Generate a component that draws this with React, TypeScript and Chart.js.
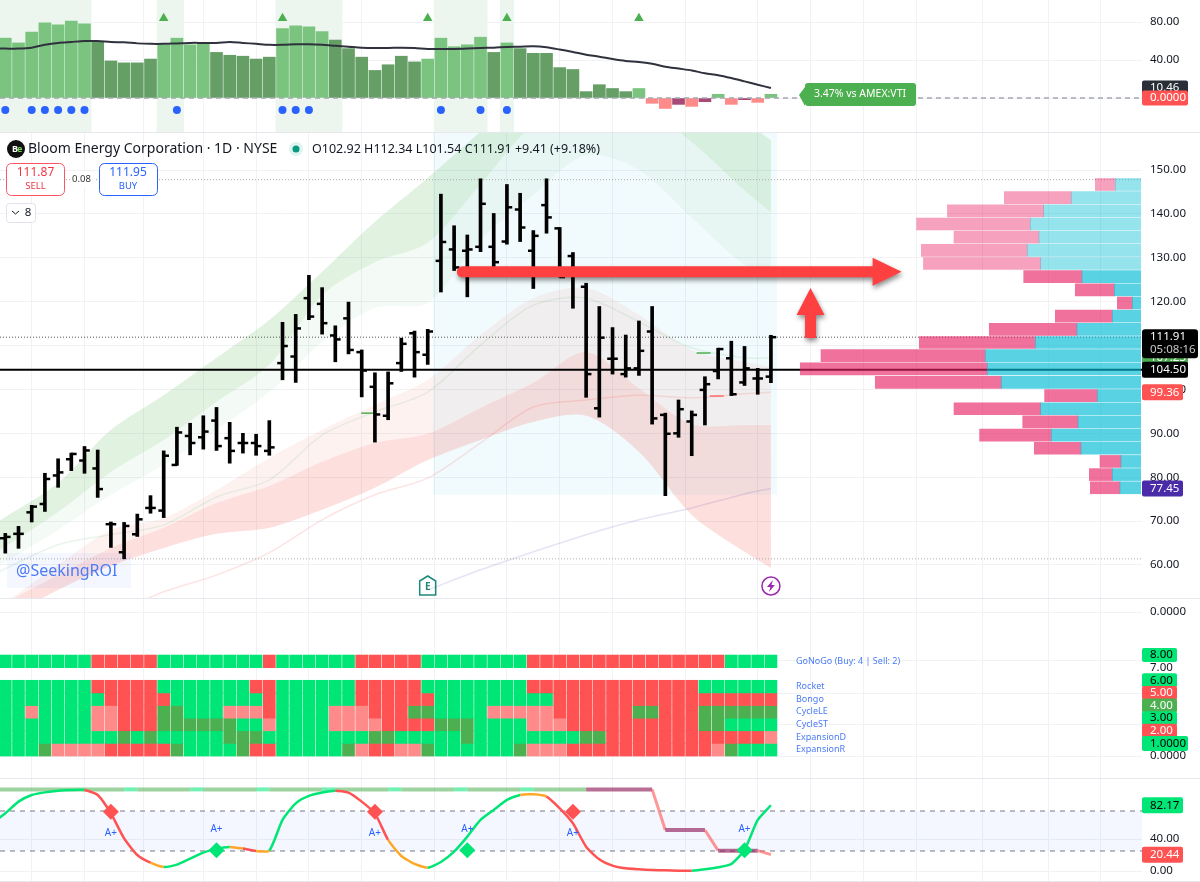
import { useEffect, useRef } from "react";
import { Chart, registerables } from "chart.js";

Chart.register(...registerables);

const FONT = '"Noto Sans", sans-serif';
const GRID = "#f0f2f5";
const X_MIN = -0.4015;
const X_MAX = 86.11;

// vertical grid positions, in bar numbers
const gridIdx = [0, 4, 8, 13, 17, 21, 25, 29, 36, 40, 44, 48, 55, 59, 63, 67, 71, 77, 81, 85];
const barIdx = Array.from({ length: 59 }, (_, i) => i);

// top panel: relative strength
const relValues = [
  63, 58, 69.5, 79, 77, 81, 78, 59, 39, 37, 37, 41, 56, 63, 56, 58, 48, 45, 44, 41, 43, 73, 76, 75, 70, 61, 52, 43, 29, 35,
  44, 38, 41, 63, 54, 56, 64, 48, 58, 52, 47, 47, 32, 30, 6.7, 14, 10, 6.7, 10, -5.6, -11, -6.7, -8.8, -3.9, 3.9, -6.7, -1.8,
  -4.6, 3.9,
];
const relKinds = "LLLLLLLDDDDDLLLLDDDDDLLLLDDDDDDDLLLLLDLDDDDDDDDDLrrprpLrprL";
const relAverage = [
  52, 52, 52, 53, 56, 58, 59, 60, 60, 59, 58.6, 57.5, 57, 57, 57.5, 58, 58, 58, 59, 58, 57, 56, 56, 56.5, 56.5, 56, 55, 54, 53,
  52.6, 52.6, 53, 52.6, 51.6, 51.6, 51.6, 52, 52.6, 53, 53.7, 54, 54.4, 53.3, 51, 48.4, 45.6, 43.5, 41, 39, 38, 36, 33, 31, 29,
  26, 24, 21, 17.5, 14, 10.46,
];
const greenZoneIdx = [0, 1, 2, 3, 4, 5, 6, 12, 13, 21, 22, 23, 24, 25, 33, 34, 35, 36, 38];
const triangleIdx = [12, 21, 32, 38, 48];
const dotIdx = [0, 2, 3, 4, 5, 6, 13, 21, 22, 23, 33, 36, 38];

// price bars
const opens = [
  66.1, 67.1, 72, 73.9, 80.4, 84.1, 83.8, 82, 69.3, 62.9, 67, 73, 72.4, 82.8, 89.4, 89.1, 92.9, 88.9, 87.8, 87.8, 86, 106, 107.5,
  120.8, 119.5, 112.3, 116.2, 108.5, 100.6, 94, 106, 112.8, 107.9, 129.3, 131.9, 131.6, 132.5, 132.5, 133.7, 141, 131.6, 142,
  136.7, 130.4, 123.4, 95.7, 107, 103.5, 104.8, 113.2, 94.2, 90, 92.7, 99.9, 104.2, 107.1, 101.6, 102.5, 102.92,
];
const highs = [
  67.2, 68.8, 73.6, 80.9, 84.2, 85.5, 87, 86.2, 69.8, 69.7, 71.6, 75.8, 86, 91.4, 92.3, 94, 95.9, 92.5, 90, 89.8, 92.9, 115.3,
  117.1, 126, 123.2, 114.5, 119.9, 109, 103.8, 104, 111.7, 113.3, 113.7, 144.5, 137.3, 135.2, 148, 140.1, 146.7, 144.7, 136.2,
  148, 136.9, 131.2, 124.2, 118.9, 114.1, 112.4, 115.6, 118.9, 94.6, 97.6, 95.1, 102.9, 109.4, 111, 109.8, 104.8, 112.34,
];
const lows = [
  62.7, 63.8, 69.8, 72.2, 77.7, 81.5, 80.9, 75.4, 64, 61.4, 66.5, 71.8, 70.8, 82.7, 85.1, 86.4, 86.1, 83.2, 85.5, 85, 85, 102.2,
  101.6, 115.9, 112.6, 106.3, 108.1, 98.3, 88, 93.1, 104.1, 102.8, 105.7, 122.2, 127.1, 121.1, 131.4, 127.6, 133.1, 133.7, 123,
  135.6, 125.6, 118.5, 98.2, 93.7, 103.5, 102.8, 103.2, 92.1, 75.8, 89.1, 84.9, 91.9, 102.4, 98.6, 100.9, 98.9, 101.54,
];
const closes = [
  66.4, 67.1, 73.3, 79.6, 81.1, 85.3, 86.1, 77.3, 69.3, 68.9, 70.4, 73, 84.9, 90.2, 87.8, 90.4, 87.1, 86, 87.8, 87.1, 86.8, 109.9,
  113.9, 116.6, 115.1, 111.4, 109, 104.3, 94.3, 101.4, 110.4, 108.5, 113.2, 133.6, 127.8, 131.9, 142.3, 129, 141.5, 136.9, 135,
  139.2, 125.6, 126.8, 103.5, 111.8, 107, 104.8, 108.8, 93.4, 89.9, 95.5, 94.2, 101.2, 109.2, 98.9, 104.8, 102.5, 111.91,
];

// moving average ribbons
const ribbonIdx = [-1, 4, 8, 12, 16, 20, 24, 28, 32, 36, 40, 44, 48, 52, 56, 58];
const greenTop = [69.1, 78.7, 90.8, 98.7, 107.2, 115.8, 126.8, 138.2, 148.2, 158.7, 168.2, 175.1, 172.8, 167.1, 160.9, 156.8];
const greenMid = [62.3, 72.1, 81.2, 88.5, 97.2, 105.6, 121.5, 129, 133.4, 146.8, 160.3, 164.8, 164.8, 156.4, 145.4, 140.4];
const greenLow = [58.9, 68, 76, 82.8, 90.8, 99.4, 110.8, 118.6, 119.7, 134.1, 144.3, 153.4, 150, 139.1, 128.4, 126.8];
const redTop = [49.3, 60, 68, 70.7, 77.1, 84.4, 90.8, 96.5, 102.2, 112.4, 120.8, 123.1, 117, 109, 106.3, 105.1];
const redMid = [49.8, 57.7, 63.9, 68.5, 74.1, 78, 83.5, 87.8, 89.9, 95.8, 101.5, 108.5, 100.3, 92.1, 91.9, 91.9];
const redLow = [46.4, 54.3, 59.8, 63.9, 67.1, 68.5, 72.6, 77.6, 83.9, 88.5, 92.6, 94, 85.8, 71.4, 63, 59.3];
const paleGreenLine = [57.7, 64.6, 66.9, 69.1, 75.5, 79.4, 89.6, 94.9, 99.4, 110.1, 119.2, 120.8, 115.4, 109.5, 107.2, 107.23];
const paleRedIdx = [8, 12, 16, 20, 24, 28, 32, 36, 40, 44, 48, 52, 56, 58];
const paleRedLine = [48.6, 53.9, 57.7, 62.8, 70.3, 76, 79.8, 87.8, 96, 97.6, 98.7, 98.1, 99, 99.36];
const purpleIdx = [32, 36, 40, 44, 48, 52, 56, 58];
const purpleLine = [54.3, 58.9, 63, 66.9, 70.3, 73, 76.2, 77.45];
const greenTickIdx = [27.5, 52.9];
const greenTickVal = [94.6, 108.3];
const redTickIdx = [53.9];
const redTickVal = [98.5];

// volume profile, top row first
const profilePrices = [
  146.7, 143.7, 140.7, 137.7, 134.7, 131.7, 128.7, 125.7, 122.7, 119.7, 116.7, 113.7, 110.7, 107.7, 104.7, 101.6, 98.6, 95.6, 92.6,
  89.6, 86.6, 83.6, 80.6, 77.6,
];
const profileBuy = [
  25.7, 69.7, 97.3, 110.7, 102, 113.7, 100.3, 59, 26.7, 8.7, 28.7, 64, 105.7, 155.7, 153.7, 139.7, 43.7, 100.3, 63, 89.7, 60, 20,
  28.7, 21,
];
const profileSell = [
  20, 67, 96.3, 113.7, 85, 106, 117.3, 58.3, 39, 15, 57, 87.7, 116, 164.3, 187, 126, 52.7, 86.7, 55.3, 71.7, 46.7, 21, 23, 29.7,
];

// signal grid, one letter per bar
const gridRows = [
  { name: "GoNoGo (Buy: 4 | Sell: 2)", hi: 8, cells: "GGGGGGGRRRRRGGGGGGGGRGGGGGGRRRRRGGGGGGGGRRRRRRRRRRRRRRRGGGG" },
  { name: "Rocket", hi: 6, cells: "GGGGGGGRRRRRGGGGGGGRRGGGGGGRRRRRGGGGGGGGRRRRRRRRRRRRRGGGGGG" },
  { name: "Bongo", hi: 5, cells: "GGGGGGGGRRRRRGGGGGGGRGGGGGGRRRRRRGGGGGGGGGRRRRRRRRRRRRRRRRR" },
  { name: "CycleLE", hi: 4, cells: "GGLGGGGLLRRRDDGGGLLLRGGGGLLLRRRDDGGGGLLLLLRRRRRRDDRRRDDDDDD" },
  { name: "CycleST", hi: 3, cells: "GGGGGGGLLRRRDDDDDDGGLGGGGLLLLRRRRDDDGGGGLLLRRRRRRRRRRDDGGGG" },
  { name: "ExpansionD", hi: 2, cells: "GGGGGGGGGDGDGGGGGDDDGGGGGGGGDDGGGGGDGGGGGGGGDDRRRRRRRRRRRRL" },
  { name: "ExpansionR", hi: 1, cells: "GGGDLLLLRRRRRDGGGGDRRGGGGGDLRRLLDGGGGGGDLLLRRRRRRRRRRRLDGGG" },
];
const cellColors: Record<string, string> = { G: "#00e676", R: "#ff5252", D: "#4caf50", L: "#ff8a8a" };

// oscillator, first value sits left of the first bar
const oscValues = [
  60, 72, 86.7, 95, 98.3, 100.4, 101.2, 101.2, 95, 72, 40.8, 20, 10.4, 5, 7.9, 15.4, 22.9, 28, 30, 28, 25, 25.4, 63.8, 84.6, 93.8, 98,
  100.4, 98, 86.7, 72, 38.8, 18.8, 8.8, 4.2, 11.3, 24.2, 43, 63.8, 76.3, 88.8, 95, 95.8, 93, 78.3, 59.6, 30.4, 14.6, 6.7, 3.3, 2.1,
  1.3, 0.8, 0.4, 0.4, 2.1, 4.6, 8.8, 26.3, 63.8, 82.17,
];
const oscKinds = "GGGGGGGRRRRROGGGGGOROGGGGGRRRROOOGGGGGGGOORRRRRRRRRRRGGGGGG";
const trendValues = [
  102, 102, 102, 102, 102, 102, 102, 102, 102, 102, 102, 102, 102, 102, 102, 102, 102, 102, 102, 102, 102, 102, 102, 102, 102, 102,
  102, 102, 102, 102, 102, 102, 102, 102, 102, 102, 102, 102, 102, 102, 102, 102, 102, 102, 102, 102, 102, 102, 102, 102, 102, 51.25,
  51.25, 51.25, 51.25, 25.4, 25.4, 25.4, 25.4, 20.44,
];
const trendKinds = "gggggggggmggggmggggmggggmggggmggggmggggmggggppppprppprppprr";
const diamondUpIdx = [16, 35, 56];
const diamondDownIdx = [8, 28, 43];
const aPlusIdx = [8, 16, 28, 35, 43, 56];
const aPlusVal = [47.5, 52.5, 47.5, 52.5, 47.5, 52.5];

const pts = (idx: number[], vals: number[]) => vals.map((y, i) => ({ x: idx[i], y }));
const level = (y: number) => [
  { x: X_MIN, y },
  { x: X_MAX, y },
];

const label = (ctx: any, s: string, x: number, y: number, font: string, color: string, align = "left") => {
  ctx.font = font;
  ctx.fillStyle = color;
  ctx.textAlign = align;
  ctx.textBaseline = "middle";
  ctx.fillText(s, x, y);
};
const box = (ctx: any, x: number, y: number, w: number, h: number, r: number, fill?: string, stroke?: string) => {
  ctx.beginPath();
  ctx.roundRect(x, y, w, h, r);
  if (fill) {
    ctx.fillStyle = fill;
    ctx.fill();
  }
  if (stroke) {
    ctx.strokeStyle = stroke;
    ctx.lineWidth = 1;
    ctx.stroke();
  }
};
// price tag in the right axis
const tag = (chart: any, value: number, text: string, w: number, bg: string, fg: string, h = 15) => {
  const y = chart.scales.y.getPixelForValue(value);
  box(chart.ctx, 1142, y - h / 2, w, h, 2, bg);
  label(chart.ctx, text, 1150, y, `11.5px ${FONT}`, fg);
};

const noPadding = (s: any) => {
  s.paddingLeft = 0;
  s.paddingRight = 0;
  s.paddingTop = 0;
  s.paddingBottom = 0;
};

const baseOptions = (yMin: number, yMax: number, yTicks: number[], fmt: (v: number) => string): any => ({
  responsive: false,
  animation: false,
  events: [],
  layout: { padding: 0, autoPadding: false },
  plugins: { legend: { display: false }, tooltip: { enabled: false } },
  scales: {
    x: {
      type: "linear",
      min: X_MIN,
      max: X_MAX,
      offset: false,
      afterBuildTicks: (s: any) => {
        s.ticks = gridIdx.map((value) => ({ value }));
      },
      afterFit: (s: any) => {
        s.height = 0;
        noPadding(s);
      },
      ticks: { display: false, autoSkip: false },
      grid: { color: GRID, drawTicks: false },
      border: { display: false },
    },
    y: {
      position: "right",
      min: yMin,
      max: yMax,
      afterBuildTicks: (s: any) => {
        s.ticks = yTicks.map((value) => ({ value }));
      },
      afterFit: (s: any) => {
        s.width = 58;
        noPadding(s);
      },
      ticks: { color: "#131722", font: { family: FONT, size: 11.5 }, padding: 8, crossAlign: "near", autoSkip: false, callback: fmt },
      grid: { color: GRID, drawTicks: false },
      border: { display: false },
    },
  },
});

const two = (v: number) => v.toFixed(2);
const hiddenLine = { type: "line", pointRadius: 0, borderWidth: 0, tension: 0.3 };

function relConfig(): any {
  const yMin = -35.79;
  const yMax = 103.16;
  const kindColor: Record<string, string> = { L: "#7bc47f", D: "#659f66", r: "#ff8a8a", p: "#a84a78" };
  return {
    type: "bar",
    data: {
      datasets: [
        {
          type: "line",
          data: level(0),
          borderColor: "#a3a6af",
          borderWidth: 1.5,
          borderDash: [5, 4],
          pointRadius: 0,
        },
        {
          type: "line",
          data: relAverage.map((y, i) => ({ x: i - 1, y })),
          borderColor: "#2f323d",
          borderWidth: 2,
          pointRadius: 0,
          tension: 0.3,
        },
        {
          type: "scatter",
          data: triangleIdx.map((x) => ({ x, y: 84 })),
          pointStyle: "triangle",
          pointRadius: 5.5,
          pointBackgroundColor: "#4caf50",
          pointBorderWidth: 0,
        },
        {
          type: "scatter",
          data: dotIdx.map((x) => ({ x, y: -12.6 })),
          pointRadius: 4,
          pointBackgroundColor: "#2962ff",
          pointBorderWidth: 0,
        },
        {
          data: barIdx.map((x) => ({ x, y: relValues[x] })),
          backgroundColor: barIdx.map((i) => kindColor[relKinds[i]]),
          barThickness: 12,
          grouped: false,
        },
        {
          data: greenZoneIdx.map((x) => ({ x, y: [yMin, yMax] })),
          backgroundColor: "#ecf6ee",
          barThickness: 13.5,
          grouped: false,
        },
      ],
    },
    options: baseOptions(yMin, yMax, [80, 40, 0], two),
    plugins: [
      {
        id: "relTags",
        afterDraw(chart: any) {
          const ctx = chart.ctx;
          const y = chart.scales.y.getPixelForValue(0);
          ctx.save();
          ctx.beginPath();
          ctx.moveTo(799, y - 3);
          ctx.lineTo(805, y - 11);
          ctx.lineTo(805, y + 8);
          ctx.closePath();
          ctx.fillStyle = "#4caf50";
          ctx.fill();
          box(ctx, 805, y - 15, 111, 23, 3, "#4caf50");
          label(ctx, "3.47% vs AMEX:VTI", 860, y - 4, `10.5px ${FONT}`, "#fff", "center");
          tag(chart, 10.46, "10.46", 46, "#2a2e39", "#fff");
          tag(chart, 0, "0.0000", 46, "#ff5252", "#fff");
          ctx.restore();
        },
      },
    ],
  };
}

const PRICE_MIN = 52.48;
const PRICE_MAX = 158.66;

function priceConfig(): any {
  const tickLine = (dx: number, vals: number[]) => ({
    type: "scatter",
    data: barIdx.map((i) => ({ x: i + dx, y: vals[i] })),
    pointStyle: "line",
    pointRadius: 2.8,
    pointBorderColor: "#000",
    pointBorderWidth: 2.5,
  });
  const levelLine = (y: number, color: string, width: number, dash: number[]) => ({
    type: "line",
    data: level(y),
    borderColor: color,
    borderWidth: width,
    borderDash: dash,
    pointRadius: 0,
  });
  const thin = (idx: number[], vals: number[], color: string) => ({
    type: "line",
    data: pts(idx, vals),
    borderColor: color,
    borderWidth: 1.5,
    pointRadius: 0,
    tension: 0.3,
  });
  const mark = (idx: number[], vals: number[], color: string) => ({
    type: "scatter",
    data: pts(idx, vals),
    pointStyle: "line",
    pointRadius: 7,
    pointBorderColor: color,
    pointBorderWidth: 1.5,
  });
  return {
    type: "bar",
    data: {
      datasets: [
        tickLine(-0.19, opens),
        tickLine(0.19, closes),
        {
          data: barIdx.map((x) => ({ x, y: [lows[x], highs[x]] })),
          backgroundColor: "#000",
          barThickness: 3,
          grouped: false,
        },
        mark(greenTickIdx, greenTickVal, "#4caf50"),
        mark(redTickIdx, redTickVal, "#ff6b6b"),
        levelLine(104.5, "#000", 2, []),
        levelLine(111.91, "#555", 1, [1, 2]),
        levelLine(147.8, "#aaa", 1, [1, 2]),
        levelLine(61.4, "#aaa", 1, [1, 2]),
        thin(ribbonIdx, paleGreenLine, "rgba(76,175,80,0.12)"),
        thin(paleRedIdx, paleRedLine, "rgba(244,67,54,0.14)"),
        thin(purpleIdx, purpleLine, "rgba(103,58,183,0.15)"),
        { ...hiddenLine, data: pts(ribbonIdx, greenTop), fill: "+1", backgroundColor: "rgba(76,175,80,0.17)" },
        { ...hiddenLine, data: pts(ribbonIdx, greenMid), fill: "+1", backgroundColor: "rgba(76,175,80,0.06)" },
        { ...hiddenLine, data: pts(ribbonIdx, greenLow), fill: false },
        { ...hiddenLine, data: pts(ribbonIdx, redTop), fill: "+1", backgroundColor: "rgba(244,67,54,0.07)" },
        { ...hiddenLine, data: pts(ribbonIdx, redMid), fill: "+1", backgroundColor: "rgba(244,67,54,0.17)" },
        { ...hiddenLine, data: pts(ribbonIdx, redLow), fill: false },
      ],
    },
    options: baseOptions(PRICE_MIN, PRICE_MAX, [150, 140, 130, 120, 110, 100, 90, 80, 70, 60], two),
    plugins: [
      {
        id: "zone",
        beforeDatasetsDraw(chart: any) {
          const { x, y } = chart.scales;
          const left = x.getPixelForValue(32.4);
          const top = y.getPixelForValue(PRICE_MAX);
          chart.ctx.fillStyle = "rgba(0,188,212,0.055)";
          chart.ctx.fillRect(left, top, x.getPixelForValue(58.46) - left, y.getPixelForValue(76) - top);
        },
      },
      {
        id: "priceDecor",
        afterDraw(chart: any) {
          const ctx = chart.ctx;
          const { x, y } = chart.scales;
          const off = 132;
          ctx.save();

          // annotation arrows
          ctx.shadowColor = "rgba(0,0,0,0.45)";
          ctx.shadowBlur = 5;
          ctx.shadowOffsetX = 1;
          ctx.shadowOffsetY = 3;
          ctx.fillStyle = "#ff4040";
          const ay = y.getPixelForValue(126.8);
          const ax0 = x.getPixelForValue(34.2);
          const ax1 = x.getPixelForValue(67.9);
          ctx.beginPath();
          ctx.roundRect(ax0, ay - 5.5, ax1 - ax0 - 28, 11, [5.5, 0, 0, 5.5]);
          ctx.moveTo(ax1 - 29, ay - 14);
          ctx.lineTo(ax1, ay);
          ctx.lineTo(ax1 - 29, ay + 14);
          ctx.closePath();
          ctx.fill();
          const ux = x.getPixelForValue(61);
          const uTip = y.getPixelForValue(123.1);
          const uEnd = y.getPixelForValue(111.7);
          ctx.beginPath();
          ctx.moveTo(ux, uTip);
          ctx.lineTo(ux + 14, uTip + 27);
          ctx.lineTo(ux + 5.5, uTip + 27);
          ctx.lineTo(ux + 5.5, uEnd);
          ctx.lineTo(ux - 5.5, uEnd);
          ctx.lineTo(ux - 5.5, uTip + 27);
          ctx.lineTo(ux - 14, uTip + 27);
          ctx.closePath();
          ctx.fill();
          ctx.shadowColor = "transparent";
          ctx.shadowBlur = 0;
          ctx.shadowOffsetX = 0;
          ctx.shadowOffsetY = 0;

          // header
          ctx.beginPath();
          ctx.arc(16, 149 - off, 9, 0, Math.PI * 2);
          ctx.fillStyle = "#111";
          ctx.fill();
          label(ctx, "B", 12, 149 - off, `bold 9px ${FONT}`, "#fff");
          label(ctx, "e", 17, 149 - off, `bold 9px ${FONT}`, "#7ed957");
          label(ctx, "Bloom Energy Corporation · 1D · NYSE", 28, 149 - off, `14px ${FONT}`, "#131722");
          ctx.beginPath();
          ctx.arc(296, 149 - off, 7, 0, Math.PI * 2);
          ctx.fillStyle = "#dff3ef";
          ctx.fill();
          ctx.beginPath();
          ctx.arc(296, 149 - off, 3.5, 0, Math.PI * 2);
          ctx.fillStyle = "#089981";
          ctx.fill();
          label(ctx, "O102.92 H112.34 L101.54 C111.91 +9.41 (+9.18%)", 312, 149 - off, `12.5px ${FONT}`, "#131722");

          // order buttons
          box(ctx, 6.5, 163.5 - off, 58, 32, 5, "#fff", "#ff5263");
          label(ctx, "111.87", 35.5, 173 - off, `12px ${FONT}`, "#f23645", "center");
          label(ctx, "SELL", 35.5, 186.5 - off, `9.5px ${FONT}`, "#f23645", "center");
          box(ctx, 70, 172 - off, 24, 15, 0, "#fff");
          label(ctx, "0.08", 81.5, 179.5 - off, `9.5px ${FONT}`, "#333", "center");
          box(ctx, 99.5, 163.5 - off, 58, 32, 5, "#fff", "#2962ff");
          label(ctx, "111.95", 128, 173 - off, `12px ${FONT}`, "#2962ff", "center");
          label(ctx, "BUY", 128, 186.5 - off, `9.5px ${FONT}`, "#2962ff", "center");
          box(ctx, 6.5, 203.5 - off, 29, 19, 3, "#fff", "#e0e3eb");
          ctx.strokeStyle = "#131722";
          ctx.lineWidth = 1;
          ctx.beginPath();
          ctx.moveTo(12, 211 - off);
          ctx.lineTo(15.5, 214 - off);
          ctx.lineTo(19, 211 - off);
          ctx.stroke();
          label(ctx, "8", 28, 213 - off, `11.5px ${FONT}`, "#131722", "center");

          // watermark
          box(ctx, 7, 553 - off, 124, 35, 0, "rgba(41,98,255,0.05)");
          label(ctx, "@SeekingROI", 16, 571 - off, `16px ${FONT}`, "#4b7bf5");

          // event markers
          const ex = x.getPixelForValue(32);
          const ey = 586 - off;
          ctx.strokeStyle = "#1c8a7a";
          ctx.lineWidth = 1.5;
          ctx.beginPath();
          ctx.moveTo(ex, ey - 10);
          ctx.lineTo(ex + 8, ey - 5);
          ctx.lineTo(ex + 8, ey + 9);
          ctx.lineTo(ex - 8, ey + 9);
          ctx.lineTo(ex - 8, ey - 5);
          ctx.closePath();
          ctx.stroke();
          label(ctx, "E", ex, ey + 1, `bold 10px ${FONT}`, "#1c8a7a", "center");
          const lx = x.getPixelForValue(58);
          ctx.strokeStyle = "#9c27b0";
          ctx.beginPath();
          ctx.arc(lx, ey, 9, 0, Math.PI * 2);
          ctx.stroke();
          ctx.fillStyle = "#9c27b0";
          ctx.beginPath();
          ctx.moveTo(lx + 2, ey - 6);
          ctx.lineTo(lx - 4, ey + 1);
          ctx.lineTo(lx - 0.5, ey + 1);
          ctx.lineTo(lx - 2, ey + 6);
          ctx.lineTo(lx + 4, ey - 1);
          ctx.lineTo(lx + 0.5, ey - 1);
          ctx.closePath();
          ctx.fill();

          // axis tags
          tag(chart, 107.23, "107.23", 46, "#4caf50", "#fff");
          const py = y.getPixelForValue(111.91);
          box(ctx, 1142, py - 8, 56, 29, 3, "#000");
          label(ctx, "111.91", 1150, py, `11.5px ${FONT}`, "#fff");
          label(ctx, "05:08:16", 1150, py + 13, `11.5px ${FONT}`, "#c8c8c8");
          tag(chart, 104.5, "104.50", 46, "#000", "#fff", 16);
          tag(chart, 99.36, "99.36", 41, "#ff5252", "#fff", 16);
          tag(chart, 77.45, "77.45", 41, "#4a2ba8", "#fff", 16);
          ctx.restore();
        },
      },
    ],
  };
}

function profileConfig(): any {
  const light = 7; // the rows above the gap are paler
  return {
    type: "bar",
    data: {
      datasets: [
        {
          data: profilePrices.map((y, i) => ({ y, x: profileBuy[i] })),
          backgroundColor: profilePrices.map((_, i) => (i < light ? "rgba(0,188,212,0.42)" : "rgba(0,188,212,0.65)")),
          barThickness: 12,
        },
        {
          data: profilePrices.map((y, i) => ({ y, x: profileSell[i] })),
          backgroundColor: profilePrices.map((_, i) => (i < light ? "rgba(233,30,99,0.42)" : "rgba(233,30,99,0.63)")),
          barThickness: 12,
        },
      ],
    },
    options: {
      indexAxis: "y",
      responsive: false,
      animation: false,
      events: [],
      layout: { padding: { right: 59 }, autoPadding: false },
      plugins: { legend: { display: false }, tooltip: { enabled: false } },
      scales: {
        x: { type: "linear", display: false, reverse: true, stacked: true, min: 0, max: 1141 },
        y: { type: "linear", display: false, stacked: true, offset: false, min: PRICE_MIN, max: PRICE_MAX },
      },
    },
  };
}

function emptyConfig(): any {
  return {
    type: "bar",
    data: { datasets: [] },
    options: baseOptions(-1, 1, [0], (v) => v.toFixed(4)),
  };
}

function signalConfig(): any {
  const options = baseOptions(-1.74, 10.3, [8, 7, 6, 5, 4, 3, 2, 1, 0], (v) => (v <= 1 ? v.toFixed(4) : v.toFixed(2)));
  options.scales.y.grid.display = false;
  const hLines = [7.6, 5, 2.5, 0];
  return {
    type: "bar",
    data: {
      datasets: gridRows.map((row) => ({
        data: barIdx.map((x) => ({ x, y: [row.hi - 1, row.hi] })),
        backgroundColor: barIdx.map((i) => cellColors[row.cells[i]]),
        barThickness: 12,
        grouped: false,
      })),
    },
    options,
    plugins: [
      {
        id: "signalDecor",
        beforeDatasetsDraw(chart: any) {
          const { ctx, scales } = chart;
          ctx.save();
          ctx.strokeStyle = GRID;
          ctx.lineWidth = 1;
          hLines.forEach((v) => {
            const y = Math.round(scales.y.getPixelForValue(v)) + 0.5;
            ctx.beginPath();
            ctx.moveTo(0, y);
            ctx.lineTo(1142, y);
            ctx.stroke();
          });
          ctx.restore();
        },
        afterDraw(chart: any) {
          const { ctx, scales } = chart;
          ctx.save();
          const lx = scales.x.getPixelForValue(59.9);
          gridRows.forEach((row) => {
            label(ctx, row.name, lx, scales.y.getPixelForValue(row.hi - 0.5), `9px ${FONT}`, "#4b7bf5");
          });
          tag(chart, 8, "8.00", 35, "#00e676", "#000", 14);
          tag(chart, 6, "6.00", 35, "#00e676", "#000", 14);
          tag(chart, 5, "5.00", 35, "#ff5252", "#fff", 14);
          tag(chart, 4, "4.00", 35, "#4caf50", "#fff", 14);
          tag(chart, 3, "3.00", 35, "#00e676", "#000", 14);
          tag(chart, 2, "2.00", 35, "#ff5252", "#fff", 14);
          tag(chart, 1, "1.0000", 46, "#00e676", "#000", 15);
          ctx.restore();
        },
      },
    ],
  };
}

function oscConfig(): any {
  const oscColor: Record<string, string> = { G: "#00e676", R: "#ff5252", O: "#ffa726" };
  const trendColor: Record<string, string> = {
    g: "rgba(76,175,80,0.55)",
    m: "rgba(0,230,118,0.55)",
    p: "rgba(136,14,79,0.6)",
    r: "rgba(255,82,82,0.6)",
  };
  const diamonds = (idx: number[], y: number, color: string) => ({
    type: "scatter",
    data: idx.map((x) => ({ x, y })),
    pointStyle: "rectRot",
    pointRadius: 8,
    pointBackgroundColor: color,
    pointBorderWidth: 0,
  });
  return {
    type: "bar",
    data: {
      datasets: [
        diamonds(diamondUpIdx, 26, "#00e676"),
        diamonds(diamondDownIdx, 74, "#ff5252"),
        {
          type: "line",
          data: oscValues.map((y, i) => ({ x: i - 1, y })),
          borderWidth: 2.5,
          borderColor: "#00e676",
          pointRadius: 0,
          tension: 0.2,
          segment: { borderColor: (c: any) => oscColor[oscKinds[c.p0DataIndex]] },
        },
        {
          type: "line",
          data: trendValues.map((y, i) => ({ x: i - 1, y })),
          borderWidth: 4,
          borderColor: trendColor.g,
          pointRadius: 0,
          segment: {
            borderColor: (c: any) => trendColor[trendKinds[c.p0DataIndex - 1] ?? "g"],
            borderWidth: (c: any) => (trendKinds[c.p0DataIndex - 1] === "r" ? 3 : 4),
          },
        },
        {
          type: "line",
          data: level(75),
          borderColor: "#787b86",
          borderWidth: 1,
          borderDash: [5, 5],
          pointRadius: 0,
          fill: "+1",
          backgroundColor: "rgba(41,98,255,0.05)",
        },
        {
          type: "line",
          data: level(25),
          borderColor: "#787b86",
          borderWidth: 1,
          borderDash: [5, 5],
          pointRadius: 0,
        },
      ],
    },
    options: baseOptions(-13.75, 116.25, [40, 0], two),
    plugins: [
      {
        id: "oscDecor",
        afterDraw(chart: any) {
          const { ctx, scales } = chart;
          ctx.save();
          aPlusIdx.forEach((i, n) => {
            label(ctx, "A+", scales.x.getPixelForValue(i), scales.y.getPixelForValue(aPlusVal[n]), `10px ${FONT}`, "#2962ff", "center");
          });
          tag(chart, 82.17, "82.17", 41, "#00e676", "#000", 16);
          tag(chart, 20.44, "20.44", 41, "#ff5252", "#fff", 16);
          ctx.restore();
        },
      },
    ],
  };
}

function Panel({ top, height, config }: { top: number; height: number; config: () => any }) {
  const ref = useRef<HTMLCanvasElement>(null);

  useEffect(() => {
    if (!ref.current) return;
    const chart = new Chart(ref.current, config());
    return () => chart.destroy();
  }, [config]);

  return <canvas ref={ref} width={1200} height={height} style={{ position: "absolute", left: 0, top, width: 1200, height }} />;
}

const separators = [132, 598, 778, 881];

export default function App() {
  return (
    <div style={{ position: "absolute", left: 0, top: 0, width: 1200, height: 882, overflow: "hidden", background: "#fff" }}>
      <Panel top={0} height={132} config={relConfig} />
      <Panel top={132} height={466} config={priceConfig} />
      <Panel top={132} height={466} config={profileConfig} />
      <Panel top={598} height={28} config={emptyConfig} />
      <Panel top={626} height={152} config={signalConfig} />
      <Panel top={778} height={104} config={oscConfig} />
      {separators.map((y) => (
        <div key={y} style={{ position: "absolute", left: 0, top: y, width: 1200, height: 1, background: "#e6e8ee" }} />
      ))}
    </div>
  );
}
